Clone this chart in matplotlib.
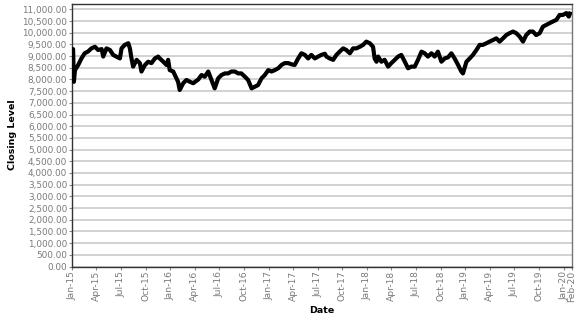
import matplotlib
matplotlib.use("Agg")
import matplotlib.pyplot as plt
import matplotlib.dates as mdates
import matplotlib.ticker as mticker
import pandas as pd

dates = [
    "2015-01-02", "2015-01-05", "2015-01-08", "2015-01-12", "2015-01-24", "2015-02-05", "2015-02-17",
    "2015-03-02", "2015-03-14", "2015-03-27", "2015-04-08", "2015-04-21", "2015-04-27", "2015-05-09",
    "2015-05-22", "2015-06-03", "2015-06-15", "2015-06-28", "2015-07-04", "2015-07-16", "2015-07-29",
    "2015-08-04", "2015-08-10", "2015-08-16", "2015-08-29", "2015-09-10", "2015-09-16", "2015-09-29",
    "2015-10-11", "2015-10-23", "2015-11-05", "2015-11-17", "2015-11-23", "2015-12-06", "2015-12-18",
    "2015-12-24", "2015-12-30",
    "2016-01-12", "2016-01-24", "2016-01-30", "2016-02-05", "2016-02-18", "2016-03-01", "2016-03-14",
    "2016-03-26", "2016-04-14", "2016-04-26", "2016-05-08", "2016-05-21", "2016-06-02", "2016-06-14",
    "2016-06-27", "2016-07-09", "2016-07-22", "2016-08-03", "2016-08-15", "2016-08-28", "2016-09-09",
    "2016-09-21", "2016-10-04", "2016-10-16", "2016-10-29", "2016-11-10", "2016-11-22", "2016-12-05",
    "2016-12-17", "2016-12-30",
    "2017-01-11", "2017-01-23", "2017-02-05", "2017-02-17", "2017-03-01", "2017-03-14", "2017-03-26",
    "2017-04-07", "2017-04-20", "2017-05-02", "2017-05-15", "2017-05-27", "2017-06-08", "2017-06-21",
    "2017-07-03", "2017-07-15", "2017-07-28", "2017-08-03", "2017-08-15", "2017-08-28", "2017-09-09",
    "2017-09-21", "2017-10-04", "2017-10-16", "2017-10-29", "2017-11-10", "2017-11-22", "2017-12-05",
    "2017-12-17", "2017-12-29",
    "2018-01-11", "2018-01-23", "2018-01-29", "2018-02-05", "2018-02-11", "2018-02-23", "2018-03-07",
    "2018-03-20", "2018-04-01", "2018-04-14", "2018-04-26", "2018-05-08", "2018-05-21", "2018-06-02",
    "2018-06-14", "2018-06-27", "2018-07-09", "2018-07-22", "2018-08-03", "2018-08-15", "2018-08-28",
    "2018-09-09", "2018-09-21", "2018-10-04", "2018-10-16", "2018-10-29", "2018-11-10", "2018-11-22",
    "2018-12-05", "2018-12-17", "2018-12-23",
    "2019-01-05", "2019-01-17", "2019-01-29", "2019-02-11", "2019-02-23", "2019-03-07", "2019-03-20",
    "2019-04-01", "2019-04-14", "2019-04-26", "2019-05-08", "2019-05-21", "2019-06-02", "2019-06-14",
    "2019-06-27", "2019-07-09", "2019-07-22", "2019-08-03", "2019-08-15", "2019-08-28", "2019-09-09",
    "2019-09-21", "2019-10-04", "2019-10-16", "2019-10-29", "2019-11-10", "2019-11-22", "2019-12-05",
    "2019-12-17", "2019-12-29",
    "2020-01-11", "2020-01-20", "2020-01-27",
]

closing = [
    9200, 9300, 7900, 8400, 8620, 8900, 9120,
    9200, 9330, 9400, 9260, 9300, 8980, 9330,
    9260, 9050, 8980, 8900, 9330, 9480, 9550,
    9330, 8900, 8550, 8840, 8700, 8340, 8620,
    8760, 8700, 8900, 8980, 8900, 8760, 8620,
    8840, 8400,
    8340, 8050, 7900, 7550, 7840, 7980, 7900,
    7840, 8000, 8190, 8120, 8340, 7980, 7620,
    8050, 8190, 8260, 8260, 8340, 8340, 8260,
    8260, 8120, 7980, 7620, 7690, 7760, 8050,
    8190, 8400,
    8340, 8400, 8480, 8620, 8700, 8700, 8650,
    8620, 8900, 9120, 9050, 8900, 9050, 8900,
    8980, 9050, 9100, 8980, 8900, 8840, 9050,
    9190, 9330, 9260, 9120, 9330, 9330, 9400,
    9480, 9620,
    9550, 9400, 8900, 8760, 8980, 8760, 8840,
    8550, 8700, 8840, 8980, 9050, 8760, 8480,
    8550, 8550, 8840, 9190, 9120, 8980, 9120,
    8980, 9190, 8760, 8900, 8950, 9120, 8900,
    8620, 8340, 8260,
    8760, 8900, 9050, 9260, 9480, 9480, 9550,
    9620, 9690, 9760, 9620, 9760, 9900, 9980,
    10050, 9980, 9830, 9620, 9900, 10050, 10050,
    9900, 9980, 10260, 10340, 10410, 10480, 10550,
    10760, 10760,
    10840, 10690, 10900,
]

tick_dates = [
    "2015-01-01", "2015-04-01", "2015-07-01", "2015-10-01",
    "2016-01-01", "2016-04-01", "2016-07-01", "2016-10-01",
    "2017-01-01", "2017-04-01", "2017-07-01", "2017-10-01",
    "2018-01-01", "2018-04-01", "2018-07-01", "2018-10-01",
    "2019-01-01", "2019-04-01", "2019-07-01", "2019-10-01",
    "2020-01-01", "2020-02-01",
]
y_ticks = list(range(0, 11001, 500))

x = pd.to_datetime(dates)
xt = pd.to_datetime(tick_dates)

fig = plt.figure(figsize=(5.77, 3.15), dpi=100)
ax = fig.add_axes([72 / 577, 48.5 / 315, 500 / 577, 263 / 315])

ax.plot(x, closing, color="black", linewidth=3.0, solid_joinstyle="round",
        solid_capstyle="butt", zorder=3)

ax.set_xlim(xt[0], xt[-1])
ax.set_ylim(0, 11250)

ax.set_yticks(y_ticks)
ax.yaxis.set_major_formatter(mticker.FuncFormatter(lambda v, p: f"{v:,.2f}"))
ax.set_xticks(xt)
ax.xaxis.set_major_formatter(mdates.DateFormatter("%b-%y"))

ax.grid(axis="y", color="#cfcfcf", linewidth=1.3, zorder=0)
ax.set_axisbelow(True)

ax.tick_params(axis="y", labelsize=6.4, labelcolor="#7a7a7a", color="#888888",
               length=2, width=0.8, pad=1.5)
ax.tick_params(axis="x", labelsize=6.6, labelcolor="#7a7a7a", color="#888888",
               length=2, width=0.8, pad=1.0)
for lbl in ax.get_xticklabels():
    lbl.set_rotation(90)

for side in ["left", "bottom", "top"]:
    ax.spines[side].set_color("#333333")
    ax.spines[side].set_linewidth(1.0)
ax.spines["right"].set_color("#777777")
ax.spines["right"].set_linewidth(1.0)

ax.set_xlabel("Date", fontsize=6.8, fontweight="bold", labelpad=3)
ax.set_ylabel("Closing Level", fontsize=6.8, fontweight="bold", labelpad=4)

fig.savefig("out.png", dpi=100)
